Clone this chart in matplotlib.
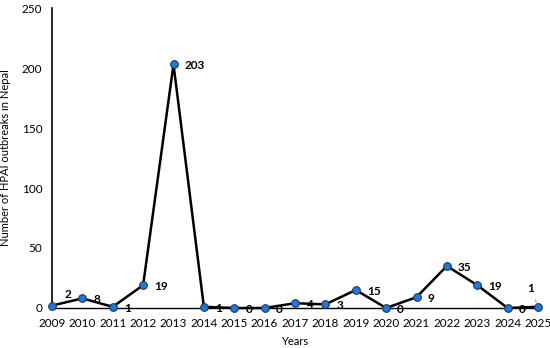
import matplotlib
matplotlib.use("Agg")
import matplotlib.pyplot as plt

years = [2009, 2010, 2011, 2012, 2013, 2014, 2015, 2016, 2017,
         2018, 2019, 2020, 2021, 2022, 2023, 2024, 2025]
outbreaks = [2, 8, 1, 19, 203, 1, 0, 0, 4, 3, 15, 0, 9, 35, 19, 0, 1]

plt.rcParams['font.family'] = ['Lato', 'DejaVu Sans']

fig = plt.figure(figsize=(5.5, 3.48), dpi=100)
ax = fig.add_axes([52/550, 40/348, 486/550, 300/348])

ax.plot(years, outbreaks, color='black', lw=1.8, marker='o', ms=5.5,
        mfc='#1f78d1', mec='#1a3a66', mew=0.8, clip_on=False, zorder=3)

for x, y in zip(years, outbreaks):
    if x == 2009:
        ax.annotate(str(y), (x, y), xytext=(9, 8), textcoords='offset points',
                    fontsize=8.5, fontweight='bold', va='center',
                    arrowprops=dict(arrowstyle='-', color='#999999', lw=0.6,
                                    shrinkA=6, shrinkB=2))
    elif x == 2025:
        ax.annotate(str(y), (x, y), xytext=(-5, 13), textcoords='offset points',
                    fontsize=8.5, fontweight='bold', ha='center', va='center',
                    arrowprops=dict(arrowstyle='-', color='#999999', lw=0.6))
    else:
        ax.annotate(str(y), (x, y), xytext=(8, -1), textcoords='offset points',
                    fontsize=8.5, fontweight='bold', va='center')

ax.set_xlim(2009, 2025)
ax.set_ylim(0, 250)
ax.set_xticks(years)
ax.set_yticks([0, 50, 100, 150, 200, 250])
ax.tick_params(length=0, labelsize=8.5, pad=7)
for s in ['top', 'right']:
    ax.spines[s].set_visible(False)
ax.spines['left'].set_linewidth(1.2)
ax.spines['bottom'].set_linewidth(1.0)
ax.set_xlabel('Years', fontsize=8, labelpad=5)
ax.set_ylabel('Number of HPAI outbreaks in Nepal', fontsize=8, labelpad=8)

fig.savefig('out.png', dpi=100)
